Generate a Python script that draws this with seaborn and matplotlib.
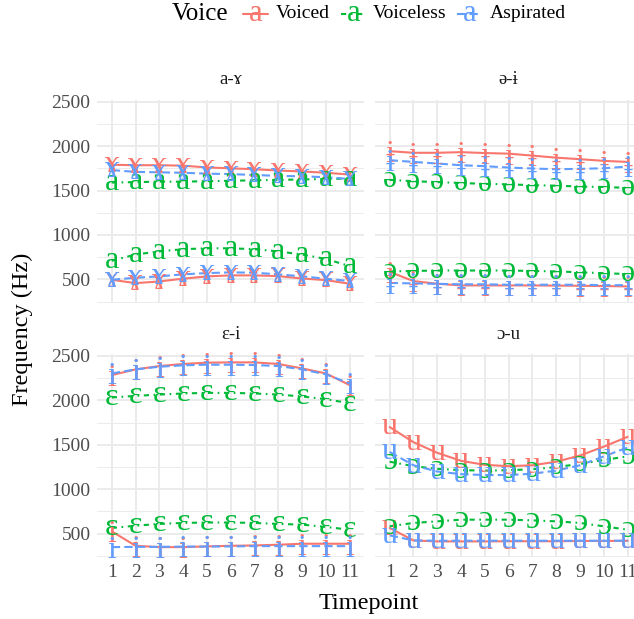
import numpy as np
import pandas as pd
import matplotlib
matplotlib.use("Agg")
import matplotlib.pyplot as plt
from matplotlib.lines import Line2D
from matplotlib.ticker import MultipleLocator
import seaborn as sns

# ---------------- data ----------------
timepoints = list(range(1, 12))
vowel_pairs = ["a-ɤ", "ə-ɨ", "ɛ-i", "ɔ-u"]
voices = ["Voiced", "Voiceless", "Aspirated"]

# a-ɤ
a_voiced_f1 = [496, 458, 477, 508, 534, 545, 545, 537, 510, 492, 451]
a_voiced_f2 = [1790, 1785, 1785, 1780, 1760, 1750, 1740, 1725, 1715, 1700, 1680]
a_voiceless_f1 = [710, 780, 815, 840, 850, 850, 840, 815, 780, 730, 650]
a_voiceless_f2 = [1590, 1595, 1600, 1600, 1605, 1610, 1615, 1620, 1625, 1630, 1635]
a_aspirated_f1 = [496, 519, 534, 557, 571, 579, 575, 557, 534, 508, 481]
a_aspirated_f2 = [1730, 1710, 1705, 1700, 1690, 1685, 1675, 1665, 1660, 1650, 1630]
# ə-ɨ
schwa_voiced_f1 = [585, 481, 451, 432, 432, 432, 432, 430, 428, 425, 421]
schwa_voiced_f2 = [1943, 1925, 1925, 1932, 1922, 1915, 1893, 1870, 1853, 1834, 1822]
schwa_voiceless_f1 = [590, 595, 600, 600, 600, 600, 595, 590, 580, 570, 560]
schwa_voiceless_f2 = [1620, 1605, 1595, 1585, 1575, 1570, 1560, 1555, 1545, 1540, 1530]
schwa_aspirated_f1 = [460, 455, 450, 445, 445, 440, 440, 440, 440, 435, 435]
schwa_aspirated_f2 = [1842, 1822, 1804, 1785, 1774, 1759, 1748, 1740, 1744, 1751, 1770]
# ɛ-i
e_voiced_f1 = [526, 364, 349, 349, 357, 364, 368, 376, 387, 387, 387]
e_voiced_f2 = [2285, 2349, 2387, 2410, 2425, 2428, 2428, 2410, 2360, 2304, 2172]
e_voiceless_f1 = [564, 590, 610, 621, 626, 626, 621, 610, 602, 576, 545]
e_voiceless_f2 = [2033, 2051, 2066, 2078, 2085, 2085, 2078, 2066, 2044, 2014, 1968]
e_aspirated_f1 = [349, 352, 352, 355, 355, 357, 360, 360, 360, 360, 360]
e_aspirated_f2 = [2304, 2349, 2379, 2395, 2402, 2402, 2398, 2387, 2349, 2293, 2191]
# ɔ-u
o_voiced_f1 = [564, 424, 413, 413, 413, 415, 415, 415, 418, 418, 420]
o_voiced_f2 = [1700, 1530, 1410, 1320, 1275, 1260, 1270, 1310, 1380, 1480, 1590]
o_voiceless_f1 = [583, 621, 639, 658, 658, 658, 650, 639, 621, 583, 545]
o_voiceless_f2 = [1310, 1260, 1230, 1215, 1210, 1215, 1225, 1250, 1285, 1330, 1370]
o_aspirated_f1 = [481, 424, 421, 421, 421, 421, 421, 421, 421, 421, 421]
o_aspirated_f2 = [1420, 1270, 1200, 1170, 1160, 1160, 1175, 1210, 1270, 1370, 1470]

series = {
    "a-ɤ": {"Voiced": (a_voiced_f1, a_voiced_f2), "Voiceless": (a_voiceless_f1, a_voiceless_f2),
            "Aspirated": (a_aspirated_f1, a_aspirated_f2)},
    "ə-ɨ": {"Voiced": (schwa_voiced_f1, schwa_voiced_f2), "Voiceless": (schwa_voiceless_f1, schwa_voiceless_f2),
            "Aspirated": (schwa_aspirated_f1, schwa_aspirated_f2)},
    "ɛ-i": {"Voiced": (e_voiced_f1, e_voiced_f2), "Voiceless": (e_voiceless_f1, e_voiceless_f2),
            "Aspirated": (e_aspirated_f1, e_aspirated_f2)},
    "ɔ-u": {"Voiced": (o_voiced_f1, o_voiced_f2), "Voiceless": (o_voiceless_f1, o_voiceless_f2),
            "Aspirated": (o_aspirated_f1, o_aspirated_f2)},
}

rows = []
for pair in vowel_pairs:
    first, second = pair.split("-")
    for v in voices:
        glyph = first if v == "Voiceless" else second
        for fname, vals in zip(["F1", "F2"], series[pair][v]):
            for t, hz in zip(timepoints, vals):
                rows.append(dict(pair=pair, voice=v, formant=fname, tp=t, hz=hz, glyph=glyph))
df = pd.DataFrame(rows)

# ---------------- style ----------------
sns.set_theme(style="white")
SERIF = ["Liberation Serif", "DejaVu Serif"]
plt.rcParams["font.family"] = SERIF

palette = {"Voiced": "#F8766D", "Voiceless": "#00BA38", "Aspirated": "#619CFF"}
dashes = {"Voiced": "", "Voiceless": (2.5, 2.2, 0.8, 2.2), "Aspirated": (4, 2)}
GLYPH_FS = 23

W, H = 634, 619
fig = plt.figure(figsize=(W / 100, H / 100), dpi=100)


def fx(x):
    return x / W


def fy(y):
    return 1 - y / H


col_left = [97.5, 375.4]
col_w = 266.5
row_top = [100, 354.3]
row_h = 202.5
YLIM = (240, 2519)
GRID = "#EBEBEB"

for i, pair in enumerate(vowel_pairs):
    r, c = divmod(i, 2)
    ax = fig.add_axes([fx(col_left[c]), fy(row_top[r] + row_h), col_w / W, row_h / H])
    sub = df[df.pair == pair]
    sns.lineplot(data=sub, x="tp", y="hz", hue="voice", style="voice", units="formant",
                 estimator=None, hue_order=voices, style_order=voices, palette=palette,
                 dashes=dashes, linewidth=1.5, legend=False, ax=ax, sort=False)
    for v in voices:
        s = sub[sub.voice == v]
        for _, row in s.iterrows():
            off = 0.34 if row.glyph in ("i", "ɨ") else 0.23
            ax.annotate(row.glyph, (row.tp, row.hz), xytext=(0, -off * GLYPH_FS),
                        textcoords="offset points", ha="center", va="baseline",
                        fontsize=GLYPH_FS, color=palette[v], family=SERIF, zorder=5)
    ax.set_xlim(0.4, 11.6)
    ax.set_ylim(*YLIM)
    ax.xaxis.set_major_locator(MultipleLocator(1))
    ax.yaxis.set_major_locator(MultipleLocator(500))
    ax.yaxis.set_minor_locator(MultipleLocator(250))
    ax.grid(which="major", color=GRID, linewidth=1.4)
    ax.grid(which="minor", axis="y", color=GRID, linewidth=0.7)
    ax.set_axisbelow(True)
    for sp in ax.spines.values():
        sp.set_visible(False)
    ax.tick_params(length=0, labelsize=14, labelcolor="#4D4D4D", pad=5)
    ax.set_xlabel("")
    ax.set_ylabel("")
    if c == 1:
        ax.set_yticklabels([])
    if r == 0:
        ax.set_xticklabels([])
    else:
        ax.set_xticks(timepoints)
        ax.set_xticklabels([str(t) for t in timepoints])
    ax.text(0.5, 1 + 20 / row_h, pair, transform=ax.transAxes, ha="center", va="center",
            fontsize=13.5, color="#1A1A1A", family=SERIF)

# axis titles
fig.text(fx(369), fy(603), "Timepoint", ha="center", va="center", fontsize=17.5, color="black")
fig.text(fx(22), fy(329), "Frequency (Hz)", ha="center", va="center", rotation=90,
         fontsize=17.5, color="black")

# legend (top)
ly = fy(14)
fig.text(fx(172), ly, "Voice", ha="left", va="center", fontsize=18, color="black")
keys = [("Voiced", 243, 268, 276), ("Voiceless", 341, 366, 373), ("Aspirated", 457, 482, 490)]
for v, x0, x1, xt in keys:
    ln = Line2D([fx(x0), fx(x1)], [ly, ly], transform=fig.transFigure, color=palette[v],
                linewidth=1.5)
    if dashes[v]:
        ln.set_dashes(dashes[v])
    fig.add_artist(ln)
    fig.text(fx((x0 + x1) / 2), fy(14 + 0.23 * 22 * 100 / 72), "a", ha="center", va="baseline",
             fontsize=22, color=palette[v])
    fig.text(fx(xt), ly, v, ha="left", va="center", fontsize=14, color="black")

fig.savefig("out.png", dpi=100, facecolor="white")
